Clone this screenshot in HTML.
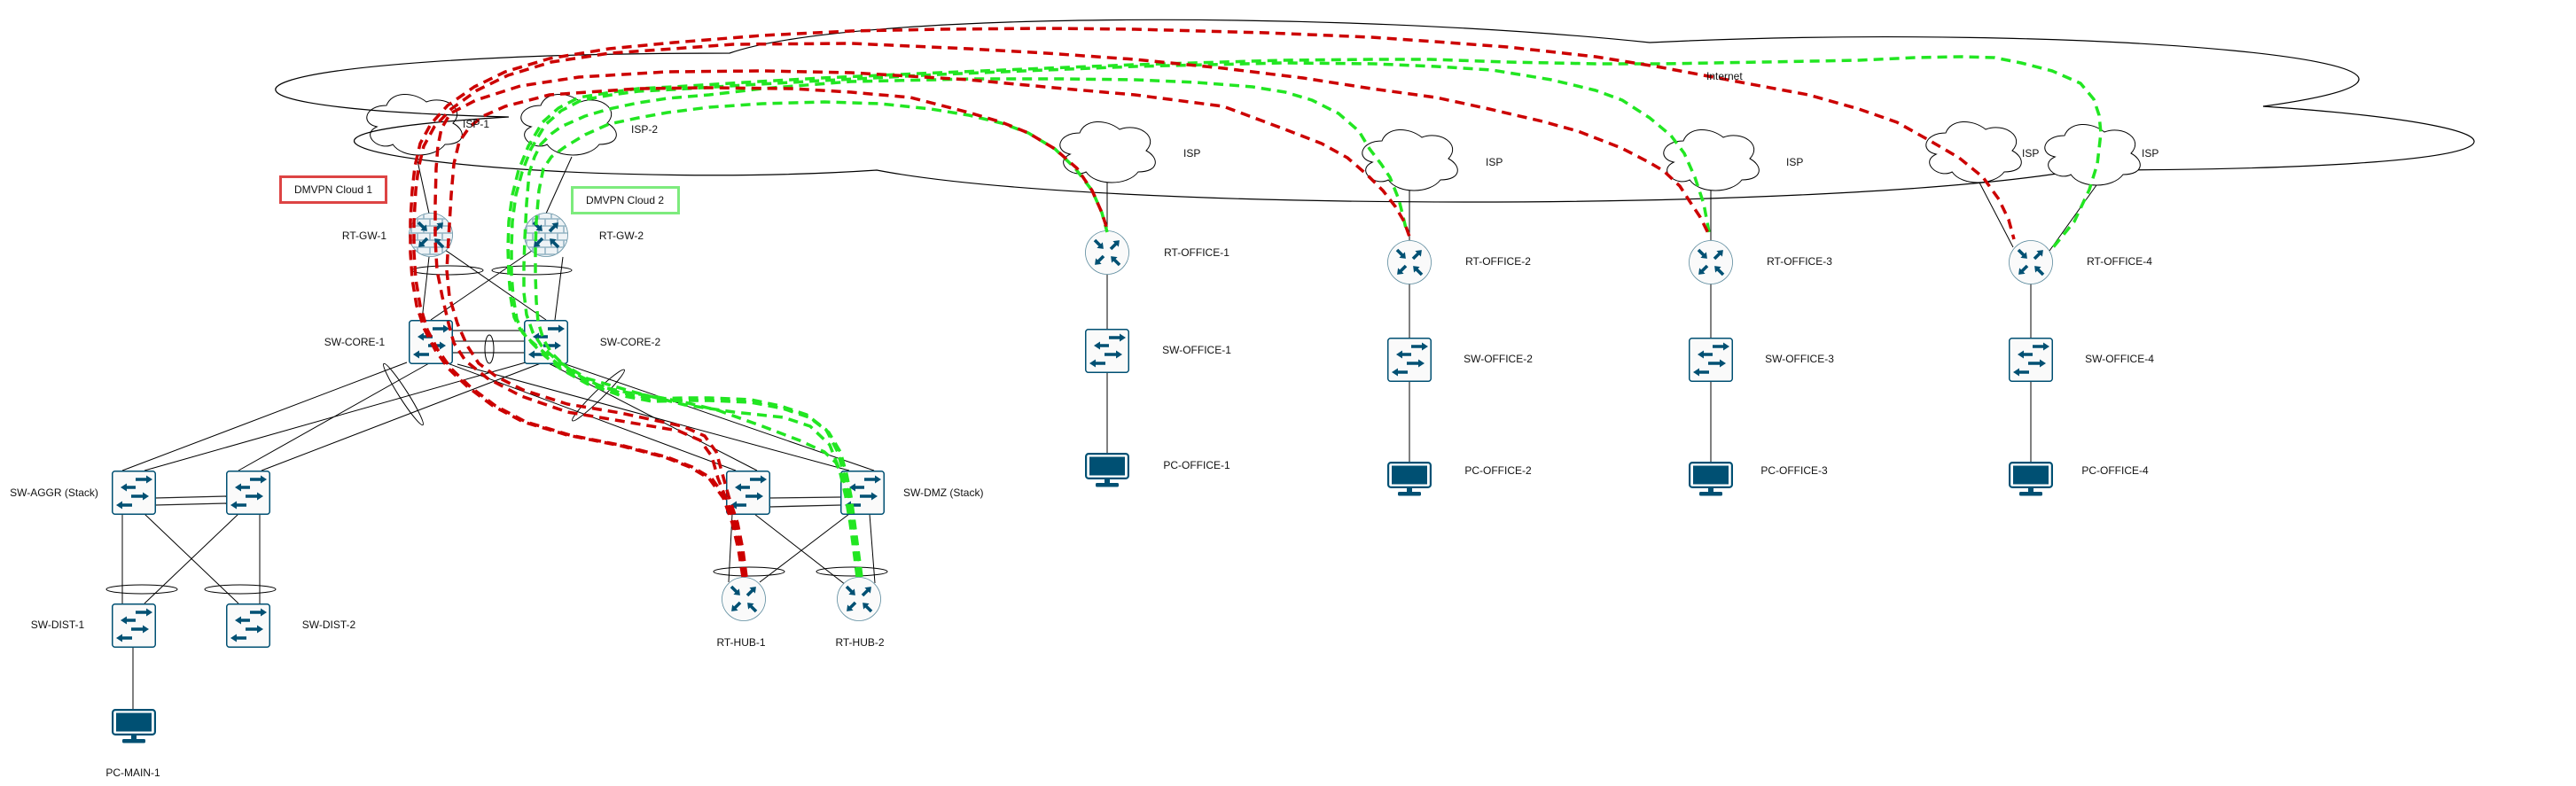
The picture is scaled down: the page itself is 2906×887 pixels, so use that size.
<!DOCTYPE html>
<html><head><meta charset="utf-8"><style>
html,body{margin:0;padding:0;background:#fff;width:2906px;height:887px;overflow:hidden}
svg{display:block}
text{font-family:"Liberation Sans",Arial,sans-serif;font-size:12px;fill:#111}
</style></head><body>
<svg width="2906" height="887" viewBox="0 0 2906 887" xmlns="http://www.w3.org/2000/svg">
<defs>
<polygon id="arr" points="0,-1.8 8,-1.8 8,-4.6 14,0 8,4.6 8,1.8 0,1.8" fill="#005073"/>
<g id="rta">
<use href="#arr" transform="translate(11,11) rotate(45)"/>
<use href="#arr" transform="translate(29,21) rotate(-45)"/>
<use href="#arr" transform="translate(21,29) rotate(135)"/>
<use href="#arr" transform="translate(39,39) rotate(-135)"/>
</g>
<g id="rt"><circle cx="25" cy="25" r="24.5" fill="#fafafa" stroke="#5b8a9d" stroke-width="0.8"/><use href="#rta"/></g>
<clipPath id="cc"><circle cx="25" cy="25" r="24"/></clipPath>
<g id="fw"><circle cx="25" cy="25" r="24.5" fill="#eef3f6" stroke="#5b8a9d" stroke-width="0.8"/>
<g clip-path="url(#cc)" stroke="#93b4c4" stroke-width="1.6" fill="none">
<path d="M0,7H50M0,15H50M0,23H50M0,31H50M0,39H50M0,47H50M3,0V7M17,0V7M31,0V7M45,0V7M10,7V15M24,7V15M38,7V15M3,15V23M17,15V23M31,15V23M45,15V23M10,23V31M24,23V31M38,23V31M3,31V39M17,31V39M31,31V39M45,31V39M10,39V47M24,39V47M38,39V47"/>
</g><use href="#rta"/></g>
<g id="sw"><rect x="0.75" y="0.75" width="48.5" height="48.5" rx="3" fill="#fafafa" stroke="#005073" stroke-width="1.5"/>
<g fill="#005073">
<polygon points="27,8.3 39,8.3 39,5.5 46,10 39,14.5 39,11.7 27,11.7"/>
<polygon points="27,17.3 17,17.3 17,14.5 10,19 17,23.5 17,20.7 27,20.7"/>
<polygon points="22,27.3 35,27.3 35,24.5 42,29 35,33.5 35,30.7 22,30.7"/>
<polygon points="23,37.3 12,37.3 12,34.5 5,39 12,43.5 12,40.7 23,40.7"/>
</g></g>
<g id="pc"><rect x="1.1" y="1.1" width="47.8" height="27.8" rx="3" fill="#fff" stroke="#005073" stroke-width="2.2"/>
<rect x="5" y="4.5" width="40" height="21" fill="#005073"/>
<rect x="22" y="29" width="6" height="5" fill="#005073"/>
<rect x="12" y="34" width="26" height="4.5" rx="1.5" fill="#005073"/></g>
<path id="cl" d="M30,20 C6,20 0,40 19.2,44 C0,52.8 21.6,72 37.2,64 C48,80 84,80 96,64 C120,64 120,48 105,40 C120,24 96,8 75,16 C60,4 36,4 30,20 Z"/>
</defs>

<!-- Internet cloud -->
<path d="M823,60 C269.4,60 131,120 573.9,132 C131,158.4 629.2,216 989.1,192 C1238.2,240 2068.6,240 2345.4,192 C2899,192 2899,144 2553,120 C2899,72 2345.4,24 1861,48 C1515,12 961.4,12 823,60 Z" fill="none" stroke="#000" stroke-width="1.2"/>

<!-- ISP clouds -->
<g stroke="#000" stroke-width="1">
<use href="#cl" transform="translate(406,99)" fill="none"/>
<use href="#cl" transform="translate(580,99)" fill="#fff"/>
<use href="#cl" transform="translate(1188,130)" fill="#fff"/>
<use href="#cl" transform="translate(1529,139)" fill="#fff"/>
<use href="#cl" transform="translate(1869,139)" fill="#fff"/>
<use href="#cl" transform="translate(2165,130)" fill="#fff"/>
<use href="#cl" transform="translate(2299,133)" fill="#fff"/>
</g>

<!-- links -->
<g stroke="#000" stroke-width="1" fill="none">
<line x1="470" y1="177" x2="484" y2="241"/>
<line x1="645" y1="177" x2="616" y2="241"/>
<line x1="484" y1="290" x2="476" y2="361"/>
<line x1="502" y1="282" x2="616" y2="361"/>
<line x1="600" y1="283" x2="486" y2="361"/>
<line x1="635" y1="290" x2="626" y2="361"/>
<line x1="510" y1="385" x2="591" y2="385"/>
<line x1="459" y1="409" x2="138" y2="531"/>
<line x1="484" y1="410" x2="269" y2="531"/>
<line x1="593" y1="409" x2="163" y2="531"/>
<line x1="610" y1="410" x2="295" y2="531"/>
<line x1="505" y1="410" x2="830" y2="531"/>
<line x1="516" y1="411" x2="958" y2="531"/>
<line x1="617" y1="409" x2="854" y2="531"/>
<line x1="635" y1="410" x2="986" y2="531"/>
<line x1="138" y1="580" x2="138" y2="681"/>
<line x1="163" y1="580" x2="269" y2="681"/>
<line x1="269" y1="580" x2="163" y2="681"/>
<line x1="293" y1="580" x2="293" y2="681"/>
<line x1="826" y1="580" x2="822" y2="657"/>
<line x1="851" y1="580" x2="954" y2="660"/>
<line x1="958" y1="580" x2="857" y2="657"/>
<line x1="981" y1="580" x2="987" y2="658"/>
<line x1="150" y1="730" x2="150" y2="800"/>
<line x1="1249" y1="206" x2="1249" y2="260"/>
<line x1="1249" y1="310" x2="1249" y2="371"/>
<line x1="1249" y1="420" x2="1249" y2="511"/>
<line x1="1590" y1="215" x2="1590" y2="271"/>
<line x1="1590" y1="320" x2="1590" y2="381"/>
<line x1="1590" y1="430" x2="1590" y2="521"/>
<line x1="1930" y1="215" x2="1930" y2="271"/>
<line x1="1930" y1="320" x2="1930" y2="381"/>
<line x1="1930" y1="430" x2="1930" y2="521"/>
<line x1="2233" y1="206" x2="2271" y2="279"/>
<line x1="2365" y1="209" x2="2312" y2="283"/>
<line x1="2291" y1="320" x2="2291" y2="381"/>
<line x1="2291" y1="430" x2="2291" y2="521"/>
</g>
<g stroke="#777" stroke-width="2" fill="none">
<line x1="510" y1="373" x2="591" y2="373"/>
<line x1="510" y1="398" x2="591" y2="398"/>
</g>
<g stroke="#222" stroke-width="1.3" fill="none">
<line x1="175" y1="562" x2="255" y2="560"/>
<line x1="175" y1="570" x2="255" y2="568"/>
<line x1="867" y1="562" x2="948" y2="561"/>
<line x1="867" y1="572" x2="948" y2="570"/>
</g>

<!-- bundle ellipses -->
<g stroke="#000" stroke-width="1" fill="none">
<ellipse cx="505" cy="305" rx="40" ry="5"/>
<ellipse cx="600" cy="305" rx="45" ry="5"/>
<ellipse cx="552" cy="394" rx="5" ry="16"/>
<ellipse cx="455" cy="445" rx="41" ry="5" transform="rotate(57.5 455 445)"/>
<ellipse cx="675" cy="446" rx="41" ry="5" transform="rotate(-44.5 675 446)"/>
<ellipse cx="160" cy="665" rx="40" ry="5"/>
<ellipse cx="271" cy="665" rx="40" ry="5"/>
<ellipse cx="845" cy="645" rx="40" ry="5"/>
<ellipse cx="961" cy="645" rx="40" ry="5"/>
</g>

<!-- DMVPN boxes -->
<rect x="316.5" y="199.5" width="119" height="29" fill="#fff" stroke="#dd4444" stroke-width="3"/>
<text x="376" y="218" text-anchor="middle">DMVPN Cloud 1</text>
<rect x="645.5" y="211.5" width="120" height="29" fill="#fff" stroke="#7deb7d" stroke-width="3"/>
<text x="705" y="230" text-anchor="middle">DMVPN Cloud 2</text>

<!-- devices -->
<use href="#fw" x="461" y="240"/>
<use href="#fw" x="591" y="240"/>
<use href="#sw" x="461" y="361"/>
<use href="#sw" x="591" y="361"/>
<use href="#sw" x="126" y="531"/>
<use href="#sw" x="255" y="531"/>
<use href="#sw" x="126" y="681"/>
<use href="#sw" x="255" y="681"/>
<use href="#sw" x="819" y="531"/>
<use href="#sw" x="948" y="531"/>
<use href="#rt" x="814" y="651"/>
<use href="#rt" x="944" y="651"/>
<use href="#pc" x="126" y="800"/>
<use href="#rt" x="1224" y="260"/>
<use href="#sw" x="1224" y="371"/>
<use href="#pc" x="1224" y="511"/>
<use href="#rt" x="1565" y="271"/>
<use href="#sw" x="1565" y="381"/>
<use href="#pc" x="1565" y="521"/>
<use href="#rt" x="1905" y="271"/>
<use href="#sw" x="1905" y="381"/>
<use href="#pc" x="1905" y="521"/>
<use href="#rt" x="2266" y="271"/>
<use href="#sw" x="2266" y="381"/>
<use href="#pc" x="2266" y="521"/>

<!-- dashed tunnels: green -->
<g fill="none" stroke="#22e622" stroke-width="3.5" stroke-dasharray="11 7" stroke-linejoin="round">
<polyline points="969,651 965,620 961,590 957,560 952,535 945,510 932,485 910,468 880,458 847,451 800,449 773,449 736,450 699,443 662,430 632,413 614,398 598,384 587,372 580,358 576,335 574,310 573,280 574,250 578,220 585,192 596,165 612,138 630,122 653,110 690,104 720,100 760,98 840,93 927,88 1060,82 1180,77 1280,73 1447,68 1555,67 1613,67 1700,70 1800,72 1874,72 1990,70 2097,68 2160,65 2213,64 2250,65 2280,71 2315,80 2347,94 2362,112 2368,130 2370,150 2366,185 2357,214 2340,250 2313,283"/>
<polyline points="972,651 968,620 964,590 960,560 955,535 948,510 935,488 913,471 883,461 847,454 800,452 773,452 736,453 699,446 662,433 632,416 614,401 601,388 590,376 583,360 579,335 577,310 577,280 578,250 582,220 589,194 599,168 615,141 633,125 656,113 690,107 720,103 760,101 840,96 927,91 1060,84 1180,79 1280,75 1447,71 1550,72 1620,75 1683,79 1750,90 1800,102 1830,113 1861,133 1885,153 1900,173 1912,200 1922,230 1928,262"/>
<polyline points="967,651 963,620 959,590 954,560 947,530 936,502 914,481 884,471 828,465 773,457 717,443 662,427 630,408 612,392 601,375 594,355 591,330 591,300 592,270 594,230 597,195 603,177 610,163 622,151 633,143 660,131 687,123 720,116 753,111 800,107 860,100 960,92 1100,89 1200,89 1280,90 1350,93 1413,98 1450,104 1480,113 1510,128 1533,148 1545,168 1558,185 1568,200 1578,225 1583,245 1587,262"/>
<polyline points="971,651 967,620 963,590 958,560 950,537 943,522 930,510 902,497 860,481 810,463 772,454 736,447 708,443 680,437 655,425 636,412 622,398 613,383 607,363 605,340 604,310 604,280 605,250 608,215 613,190 622,177 637,166 660,152 687,140 720,133 753,127 800,121 860,117 930,115 993,117 1050,123 1093,130 1130,139 1160,150 1190,168 1213,190 1232,215 1243,240 1249,262"/>
</g>
<!-- dashed tunnels: red -->
<g fill="none" stroke="#cc0000" stroke-width="3.5" stroke-dasharray="11 7" stroke-linejoin="round">
<polyline points="838,651 833,620 826,590 816,562 800,540 778,527 750,516 700,503 640,491 590,476 556,458 528,437 506,416 491,395 479,372 470,345 465,315 463,285 463,250 465,215 468,188 474,162 486,140 505,119 535,98 570,81 620,66 687,55 760,48 860,40 960,35 1060,33 1180,32 1280,33 1428,37 1547,42 1619,47 1700,53 1746,58 1800,64 1874,76 1970,94 2040,107 2097,123 2140,138 2174,157 2210,178 2237,200 2255,225 2266,248 2272,270"/>
<polyline points="841,651 836,620 829,590 819,562 803,540 781,527 753,516 703,503 643,491 593,476 559,458 531,437 509,416 494,395 482,372 474,345 469,315 467,285 467,250 469,215 472,190 478,165 490,143 509,123 538,102 573,85 622,70 688,60 760,55 827,50 960,49 1093,55 1180,60 1280,67 1380,77 1470,88 1547,100 1620,110 1680,123 1740,137 1780,148 1829,167 1860,183 1877,193 1895,210 1906,227 1918,245 1928,265"/>
<polyline points="840,651 835,620 828,590 818,560 810,540 803,515 790,497 765,486 700,475 640,465 588,447 550,427 525,407 512,387 506,365 499,335 493,305 491,270 491,230 492,190 494,165 498,145 508,128 537,113 587,97 653,87 753,81 860,80 960,82 1093,90 1200,100 1280,107 1380,120 1447,145 1491,162 1520,178 1542,197 1560,215 1574,233 1584,250 1590,267"/>
<polyline points="842,651 838,620 832,590 822,560 815,535 808,510 795,492 770,481 700,466 640,456 590,440 560,425 540,410 527,390 516,365 507,335 504,305 506,270 509,220 512,185 518,160 530,143 545,131 570,120 620,107 720,100 800,99 893,100 960,104 1027,110 1093,127 1130,138 1160,150 1190,168 1215,190 1232,215 1243,240 1250,262"/>
</g>

<!-- labels -->
<text x="522" y="144">ISP-1</text>
<text x="712" y="150">ISP-2</text>
<text x="1335" y="177">ISP</text>
<text x="1676" y="187">ISP</text>
<text x="2015" y="187">ISP</text>
<text x="2281" y="177">ISP</text>
<text x="2416" y="177">ISP</text>
<text x="1925" y="90">Internet</text>
<text x="411" y="270" text-anchor="middle">RT-GW-1</text>
<text x="701" y="270" text-anchor="middle">RT-GW-2</text>
<text x="400" y="390" text-anchor="middle">SW-CORE-1</text>
<text x="711" y="390" text-anchor="middle">SW-CORE-2</text>
<text x="61" y="560" text-anchor="middle">SW-AGGR (Stack)</text>
<text x="1019" y="560">SW-DMZ (Stack)</text>
<text x="65" y="709" text-anchor="middle">SW-DIST-1</text>
<text x="371" y="709" text-anchor="middle">SW-DIST-2</text>
<text x="150" y="876" text-anchor="middle">PC-MAIN-1</text>
<text x="836" y="729" text-anchor="middle">RT-HUB-1</text>
<text x="970" y="729" text-anchor="middle">RT-HUB-2</text>
<text x="1350" y="289" text-anchor="middle">RT-OFFICE-1</text>
<text x="1350" y="399" text-anchor="middle">SW-OFFICE-1</text>
<text x="1350" y="529" text-anchor="middle">PC-OFFICE-1</text>
<text x="1690" y="299" text-anchor="middle">RT-OFFICE-2</text>
<text x="1690" y="409" text-anchor="middle">SW-OFFICE-2</text>
<text x="1690" y="535" text-anchor="middle">PC-OFFICE-2</text>
<text x="2030" y="299" text-anchor="middle">RT-OFFICE-3</text>
<text x="2030" y="409" text-anchor="middle">SW-OFFICE-3</text>
<text x="2024" y="535" text-anchor="middle">PC-OFFICE-3</text>
<text x="2391" y="299" text-anchor="middle">RT-OFFICE-4</text>
<text x="2391" y="409" text-anchor="middle">SW-OFFICE-4</text>
<text x="2386" y="535" text-anchor="middle">PC-OFFICE-4</text>
</svg>
</body></html>
